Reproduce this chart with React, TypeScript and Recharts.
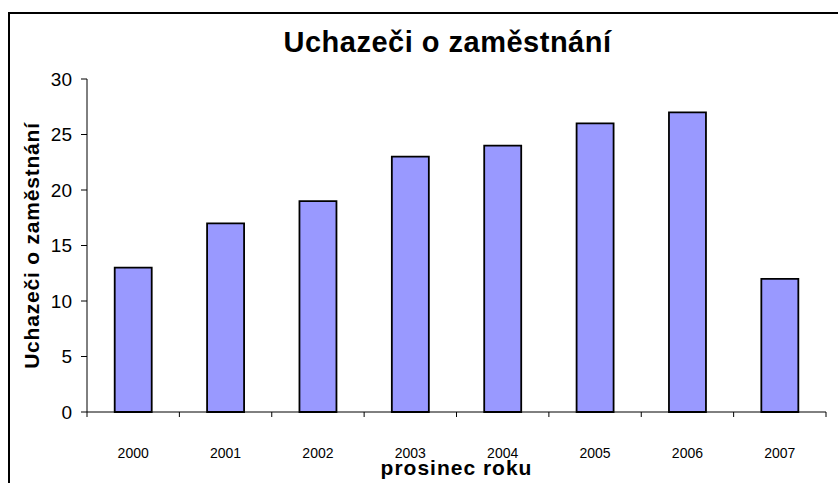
import React from 'react';
import { BarChart, Bar, XAxis, YAxis } from 'recharts';

const years = ['2000', '2001', '2002', '2003', '2004', '2005', '2006', '2007'];
const applicants = [13, 17, 19, 23, 24, 26, 27, 12];
const yTicks = [0, 5, 10, 15, 20, 25, 30];

const data = years.map((year, i) => ({ year, value: applicants[i] }));

const FONT = '"Liberation Sans", Arial, sans-serif';

const XTick = (props: any) => {
  const { x, y, payload, index } = props;
  const off = payload.offset ?? 0;
  return (
    <g>
      {index === 0 && <line x1={x - off} x2={x - off} y1={y} y2={y + 5} stroke="#000" />}
      <line x1={x + off} x2={x + off} y1={y} y2={y + 5} stroke="#000" />
      <text x={x} y={y + 46} textAnchor="middle" fontSize={14} fontFamily={FONT} fill="#000">
        {payload.value}
      </text>
    </g>
  );
};

const XTitle = (props: any) => {
  const { viewBox } = props;
  return (
    <text
      x={viewBox.x + viewBox.width / 2}
      y={viewBox.y + 63}
      textAnchor="middle"
      fontSize={21}
      fontWeight="bold"
      letterSpacing={1}
      fontFamily={FONT}
      fill="#000"
    >
      prosinec roku
    </text>
  );
};

const YTitle = (props: any) => {
  const { viewBox } = props;
  const cx = viewBox.x + 39;
  const cy = viewBox.y + viewBox.height / 2;
  return (
    <text
      x={cx}
      y={cy}
      transform={`rotate(-90 ${cx} ${cy})`}
      textAnchor="middle"
      fontSize={21}
      fontWeight="bold"
      letterSpacing={0.8}
      fontFamily={FONT}
      fill="#000"
    >
      Uchazeči o zaměstnání
    </text>
  );
};

export default function App() {
  return (
    <div style={{ position: 'absolute', left: 0, top: 0, width: 838, height: 483, overflow: 'hidden', background: '#fff' }}>
      <div
        style={{
          position: 'absolute',
          left: 8,
          top: 12,
          width: 900,
          height: 600,
          border: '2px solid #000',
          boxSizing: 'border-box',
        }}
      />
      <div
        style={{
          position: 'absolute',
          left: 0,
          top: 28,
          width: 895,
          textAlign: 'center',
          fontFamily: FONT,
          fontWeight: 'bold',
          fontSize: 29,
          lineHeight: '29px',
          letterSpacing: 0.5,
          color: '#000',
        }}
      >
        Uchazeči o zaměstnání
      </div>
      <div style={{ position: 'absolute', left: 0, top: 0 }}>
        <BarChart
          width={838}
          height={483}
          data={data}
          margin={{ top: 79, right: 12, left: 0, bottom: 0 }}
          barCategoryGap="30%"
        >
          <XAxis
            dataKey="year"
            height={71}
            tickSize={0}
            tickMargin={0}
            tickLine={false}
            axisLine={{ stroke: '#000' }}
            tick={<XTick />}
            interval={0}
            label={<XTitle />}
          />
          <XAxis xAxisId="top" orientation="top" height={0} tick={false} tickLine={false} axisLine={{ stroke: '#000' }} />
          <YAxis
            width={87}
            domain={[0, 30]}
            ticks={yTicks}
            tickSize={6}
            tickMargin={9}
            tickLine={{ stroke: '#000' }}
            axisLine={{ stroke: '#000' }}
            tick={{ fill: '#000', fontSize: 19, fontFamily: FONT }}
            label={<YTitle />}
          />
          <YAxis yAxisId="right" orientation="right" width={0} domain={[0, 30]} tick={false} tickLine={false} axisLine={{ stroke: '#000' }} />
          <Bar dataKey="value" fill="#9999FF" stroke="#000" strokeWidth={1.8} isAnimationActive={false} />
        </BarChart>
      </div>
    </div>
  );
}
